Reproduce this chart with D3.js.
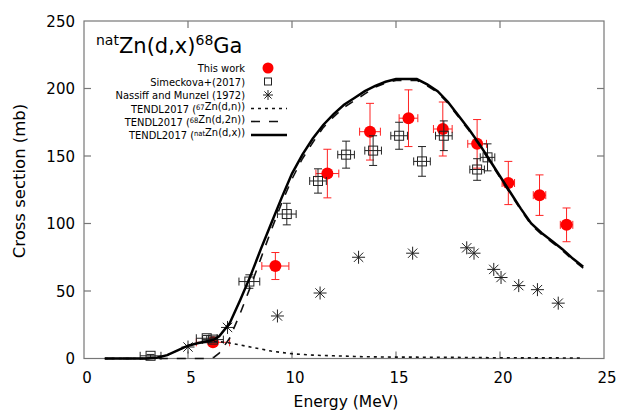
<!DOCTYPE html>
<html>
<head>
<meta charset="utf-8">
<script src="https://d3js.org/d3.v7.min.js"></script>
<style>
body { margin: 0; background: #fff; }
svg { display: block; }
text { font-family: "DejaVu Sans", Verdana, sans-serif; }
</style>
</head>
<body>
<script>
// ---- data ----
var thisE    = [6.2, 9.2, 11.7, 13.75, 15.6, 17.25, 18.9, 20.4, 21.9, 23.2];
var thisS    = [12, 68.5, 137, 168, 178, 170, 159, 130, 121, 99];
var thisDE   = [0.8, 0.65, 0.55, 0.5, 0.45, 0.45, 0.45, 0.3, 0.3, 0.3];
var thisDS   = [3, 10, 18, 21, 21, 20, 18, 16, 15, 12.5];

var simE  = [3.2, 5.9, 6.2, 7.95, 9.75, 11.25, 12.6, 13.9, 15.15, 16.25, 17.3, 18.9, 19.4];
var simS  = [2, 15, 14, 57, 107, 131.5, 151, 154, 165, 146, 165, 140, 149];
var simDE = [0.5, 0.5, 0.5, 0.5, 0.45, 0.4, 0.4, 0.4, 0.4, 0.4, 0.4, 0.35, 0.35];
var simDS = [1, 2, 2, 5, 8, 9, 10, 11, 10, 11, 11, 8, 10];

var nasE = [5.0, 6.9, 9.3, 11.35, 13.2, 15.8, 18.4, 18.75, 19.7, 20.05, 20.9, 21.8, 22.8];
var nasS = [8.5, 23, 31.5, 48.5, 75, 78, 82, 78, 66, 60, 54, 51, 41];

var curveE = [1, 2, 3, 3.5, 4, 4.5, 5, 5.5, 6, 6.25, 6.5, 7, 7.5, 8, 8.5, 9, 9.5, 10, 10.5, 11, 11.5, 12, 12.5, 13,
              13.5, 14, 14.5, 15, 15.5, 16, 16.5, 17, 17.5, 18, 18.5, 19, 19.5, 20, 20.5, 21, 21.5, 22, 22.5, 23, 23.5, 24];
var tendl67  = [0, 0, 0, 0.5, 2.5, 6, 9.5, 11.5, 12.5, 12.6, 12.5, 11.5, 10, 8.5, 7, 5.5, 4.5, 3.5, 3, 2.5, 2.2, 2, 1.8, 1.5,
                1.3, 1.2, 1.1, 1, 1, 1, 0.9, 0.9, 0.8, 0.8, 0.7, 0.7, 0.6, 0.6, 0.6, 0.5, 0.5, 0.5, 0.5, 0.4, 0.4, 0.4];
var tendl68  = [0, 0, 0, 0, 0, 0, 0, 0, 0, 1, 4, 15, 33, 53, 74, 95, 115, 133, 148, 160, 171, 179, 186, 191,
                196, 201, 204, 206, 206, 206, 202, 197, 189, 179, 169, 158, 146, 134, 122, 110, 99, 92, 86, 80, 73, 67];
var tendlNat = [0, 0, 0, 0.5, 2.5, 6, 9.5, 11.5, 13, 14, 16.5, 26, 43, 61, 81, 100, 119, 137, 151, 163, 173, 181, 188, 193,
                198, 202, 205, 207, 207, 207, 203, 198, 190, 180, 170, 159, 147, 135, 123, 111, 100, 93, 87, 81, 74, 68];

var xTicks = [0, 5, 10, 15, 20, 25];
var yTicks = [0, 50, 100, 150, 200, 250];

// ---- layout ----
var W = 618, H = 414;
var mLeft = 84, mRight = 604, mTop = 21, mBottom = 358.5;

var svg = d3.select("body").append("svg").attr("width", W).attr("height", H);

var x = d3.scaleLinear().domain([0, 25]).range([mLeft, mRight]);
var y = d3.scaleLinear().domain([0, 250]).range([mBottom, mTop]);

var frameCol = "#777";

// frame
svg.append("rect")
   .attr("x", mLeft).attr("y", mTop)
   .attr("width", mRight - mLeft).attr("height", mBottom - mTop)
   .attr("fill", "none").attr("stroke", frameCol).attr("stroke-width", 1.2);

// ticks (inside, mirrored)
var tl = 7;
xTicks.slice(1, -1).forEach(function(t) {
    svg.append("line").attr("x1", x(t)).attr("x2", x(t)).attr("y1", mBottom).attr("y2", mBottom - tl)
       .attr("stroke", frameCol).attr("stroke-width", 1.2);
    svg.append("line").attr("x1", x(t)).attr("x2", x(t)).attr("y1", mTop).attr("y2", mTop + tl)
       .attr("stroke", frameCol).attr("stroke-width", 1.2);
});
yTicks.slice(1, -1).forEach(function(t) {
    svg.append("line").attr("x1", mLeft).attr("x2", mLeft + tl).attr("y1", y(t)).attr("y2", y(t))
       .attr("stroke", frameCol).attr("stroke-width", 1.2);
    svg.append("line").attr("x1", mRight).attr("x2", mRight - tl).attr("y1", y(t)).attr("y2", y(t))
       .attr("stroke", frameCol).attr("stroke-width", 1.2);
});

// tick labels
xTicks.forEach(function(t) {
    svg.append("text").attr("x", x(t) + 3).attr("y", 383)
       .attr("text-anchor", "middle").style("font-size", "15px").text(t);
});
yTicks.forEach(function(t) {
    svg.append("text").attr("x", 75).attr("y", y(t) + 5.5)
       .attr("text-anchor", "end").style("font-size", "15px").text(t);
});

// axis titles
svg.append("text").attr("x", 346).attr("y", 407)
   .attr("text-anchor", "middle").style("font-size", "15.5px").text("Energy (MeV)");
svg.append("text")
   .attr("transform", "translate(25," + 181 + ") rotate(-90)")
   .attr("text-anchor", "middle").style("font-size", "16.5px").text("Cross section (mb)");

var plot = svg.append("g");

// error bar helper
function errBars(g, E, S, dE, dS, col, cap) {
    E.forEach(function(e, i) {
        var cx = x(e), cy = y(S[i]);
        var x0 = x(e - dE[i]), x1 = x(e + dE[i]);
        var y0 = y(S[i] - dS[i]), y1 = y(S[i] + dS[i]);
        var p = "M" + x0 + "," + cy + "H" + x1 +
                "M" + cx + "," + y0 + "V" + y1 +
                "M" + x0 + "," + (cy - cap) + "V" + (cy + cap) +
                "M" + x1 + "," + (cy - cap) + "V" + (cy + cap) +
                "M" + (cx - cap) + "," + y0 + "H" + (cx + cap) +
                "M" + (cx - cap) + "," + y1 + "H" + (cx + cap);
        g.append("path").attr("d", p).attr("fill", "none").attr("stroke", col).attr("stroke-width", 1);
    });
}

// This work
errBars(plot, thisE, thisS, thisDE, thisDS, "#f22", 4);
plot.selectAll("circle.tw").data(thisE).enter().append("circle")
    .attr("cx", function(d) { return x(d); })
    .attr("cy", function(d, i) { return y(thisS[i]); })
    .attr("r", 6).attr("fill", "#ff0000");

// Simeckova
errBars(plot, simE, simS, simDE, simDS, "#222", 4);
plot.selectAll("rect.sim").data(simE).enter().append("rect")
    .attr("x", function(d) { return x(d) - 4.5; })
    .attr("y", function(d, i) { return y(simS[i]) - 4.5; })
    .attr("width", 9).attr("height", 9)
    .attr("fill", "none").attr("stroke", "#222").attr("stroke-width", 1);

// Nassiff and Munzel asterisks
function star(cx, cy, r) {
    var d = r * 0.72;
    return "M" + (cx - r) + "," + cy + "H" + (cx + r) +
           "M" + cx + "," + (cy - r) + "V" + (cy + r) +
           "M" + (cx - d) + "," + (cy - d) + "L" + (cx + d) + "," + (cy + d) +
           "M" + (cx - d) + "," + (cy + d) + "L" + (cx + d) + "," + (cy - d);
}
nasE.forEach(function(e, i) {
    plot.append("path").attr("d", star(x(e), y(nasS[i]), 6.5))
        .attr("fill", "none").attr("stroke", "#222").attr("stroke-width", 1);
});

// TENDL curves
var line = d3.line()
    .x(function(d) { return x(d[0]); })
    .y(function(d) { return y(d[1]); });

function zipCurve(vals) {
    return curveE.map(function(e, i) { return [e, vals[i]]; });
}

plot.append("path").attr("d", line(zipCurve(tendl67)))
    .attr("fill", "none").attr("stroke", "#111").attr("stroke-width", 1.6)
    .attr("stroke-dasharray", "3,4");
plot.append("path").attr("d", line(zipCurve(tendl68)))
    .attr("fill", "none").attr("stroke", "#111").attr("stroke-width", 1.6)
    .attr("stroke-dasharray", "9,9");
plot.append("path").attr("d", line(zipCurve(tendlNat)))
    .attr("fill", "none").attr("stroke", "#000").attr("stroke-width", 2.5);

// ---- legend / title ----
var title = svg.append("text").attr("x", 96).attr("y", 53).style("font-size", "21px");
title.append("tspan").attr("dy", -8).style("font-size", "14px").text("nat");
title.append("tspan").attr("dy", 8).text("Zn(d,x)");
title.append("tspan").attr("dy", -8).style("font-size", "14px").text("68");
title.append("tspan").attr("dy", 8).text("Ga");

var legTextX = 245, symX = 268, lineX0 = 251, lineX1 = 287;
var rowY = [68, 81.5, 95, 108.5, 121.5, 135];

function legLabel(i, parts) {
    var t = svg.append("text").attr("x", legTextX).attr("y", rowY[i] + 4)
        .attr("text-anchor", "end")
        .style("font-family", "'DejaVu Sans Condensed', 'DejaVu Sans', sans-serif")
        .style("font-size", "11px");
    parts.forEach(function(p) {
        if (p.sup) {
            t.append("tspan").attr("dy", -3).style("font-size", "7.5px").text(p.t);
            t.append("tspan").attr("dy", 3).text("");
        } else {
            t.append("tspan").text(p.t);
        }
    });
}

legLabel(0, [{t: "This work"}]);
svg.append("circle").attr("cx", symX).attr("cy", rowY[0]).attr("r", 5.5).attr("fill", "#ff0000");

legLabel(1, [{t: "Simeckova+(2017)"}]);
svg.append("rect").attr("x", symX - 3.5).attr("y", rowY[1] - 3.5).attr("width", 7).attr("height", 7)
   .attr("fill", "none").attr("stroke", "#222").attr("stroke-width", 1);

legLabel(2, [{t: "Nassiff and Munzel (1972)"}]);
svg.append("path").attr("d", star(symX, rowY[2], 5))
   .attr("fill", "none").attr("stroke", "#222").attr("stroke-width", 1);

legLabel(3, [{t: "TENDL2017 ("}, {t: "67", sup: true}, {t: "Zn(d,n))"}]);
svg.append("line").attr("x1", lineX0).attr("x2", lineX1).attr("y1", rowY[3]).attr("y2", rowY[3])
   .attr("stroke", "#111").attr("stroke-width", 1.6).attr("stroke-dasharray", "3,4");

legLabel(4, [{t: "TENDL2017 ("}, {t: "68", sup: true}, {t: "Zn(d,2n))"}]);
svg.append("line").attr("x1", lineX0).attr("x2", lineX1).attr("y1", rowY[4]).attr("y2", rowY[4])
   .attr("stroke", "#111").attr("stroke-width", 1.6).attr("stroke-dasharray", "9,9");

legLabel(5, [{t: "TENDL2017 ("}, {t: "nat", sup: true}, {t: "Zn(d,x))"}]);
svg.append("line").attr("x1", lineX0).attr("x2", lineX1).attr("y1", rowY[5]).attr("y2", rowY[5])
   .attr("stroke", "#000").attr("stroke-width", 2.5);
</script>
</body>
</html>
